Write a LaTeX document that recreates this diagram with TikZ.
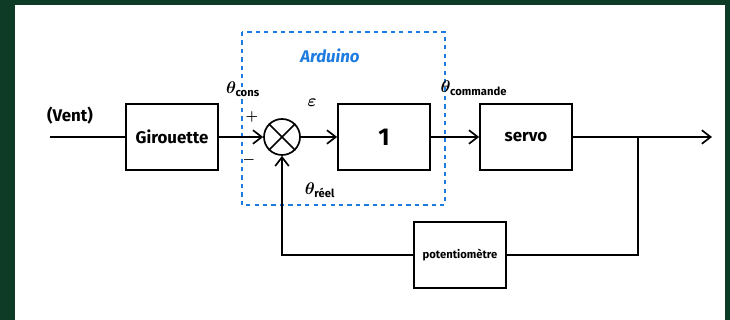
\documentclass[tikz,border=0pt]{standalone}
\usepackage{amsmath}
\usepackage{fontspec}
\setmainfont{Fira Sans}
\usetikzlibrary{arrows.meta}

\definecolor{framegreen}{HTML}{0E3B26}
\definecolor{arduinoblue}{HTML}{1E7BE0}

\tikzset{
  wire/.style={line width=1.2pt},
  signal/.style={wire, -{Straight Barb[length=2.2mm,width=3.4mm]}},
  block/.style={draw, line width=1.2pt, minimum width=2.3cm, minimum height=1.65cm,
    inner sep=2pt, font=\large\bfseries},
  sum/.style={draw, circle, line width=1.2pt, minimum size=0.9cm, inner sep=0pt},
  tag/.style={font=\large\bfseries\boldmath},
}

\begin{document}
\begin{tikzpicture}[x=0.025cm, y=-0.025cm]
  % page
  \fill[framegreen] (0,0) rectangle (730,320);
  \fill[white] (15,5) rectangle (725,320);

  % controller part
  \draw[arduinoblue, dashed, line width=1.2pt] (242,32) rectangle (445,205);
  \node[arduinoblue, font=\large\bfseries\itshape] (arduino) at (330,56) {Arduino};

  \draw
    (172,137) node[block] (girouette) {Girouette}
    (282,137) node[sum] (sum) {}
    (384,137) node[block, font=\LARGE\bfseries] (gain) {1}
    (526,137) node[block] (servo) {servo}
    (460,255) node[block, font=\footnotesize\bfseries] (pot) {potentiomètre};
  \draw[wire] (sum.45) -- (sum.225) (sum.135) -- (sum.315);

  \coordinate (input) at (50,137);
  \coordinate (branch) at (638,137);
  \coordinate (output) at (712,137);

  \begin{scope}[wire]
    \draw (input) -- (girouette);
    \draw[signal] (girouette) -- (sum);
    \draw[signal] (sum) -- (gain);
    \draw[signal] (gain) -- (servo);
    \draw[signal] (servo) -- (output);
    \draw (branch) |- (pot);
    \draw[signal] (pot) -| (sum);
  \end{scope}

  % signal names
  \node[tag] (vent) at (70,116) {(Vent)};
  \node[tag] (cons) at (243,89) {$\theta_{\text{cons}}$};
  \node[tag, font=\normalsize\boldmath] (plus) at (252,117) {$+$};
  \node[tag, font=\normalsize\boldmath] (minus) at (249,160) {$-$};
  \node[tag] (eps) at (312,103) {$\varepsilon$};
  \node[tag] (cmd) at (474,88) {$\theta_{\text{commande}}$};
  \node[tag] (reel) at (320,190) {$\theta_{\text{réel}}$};
\end{tikzpicture}
\end{document}
